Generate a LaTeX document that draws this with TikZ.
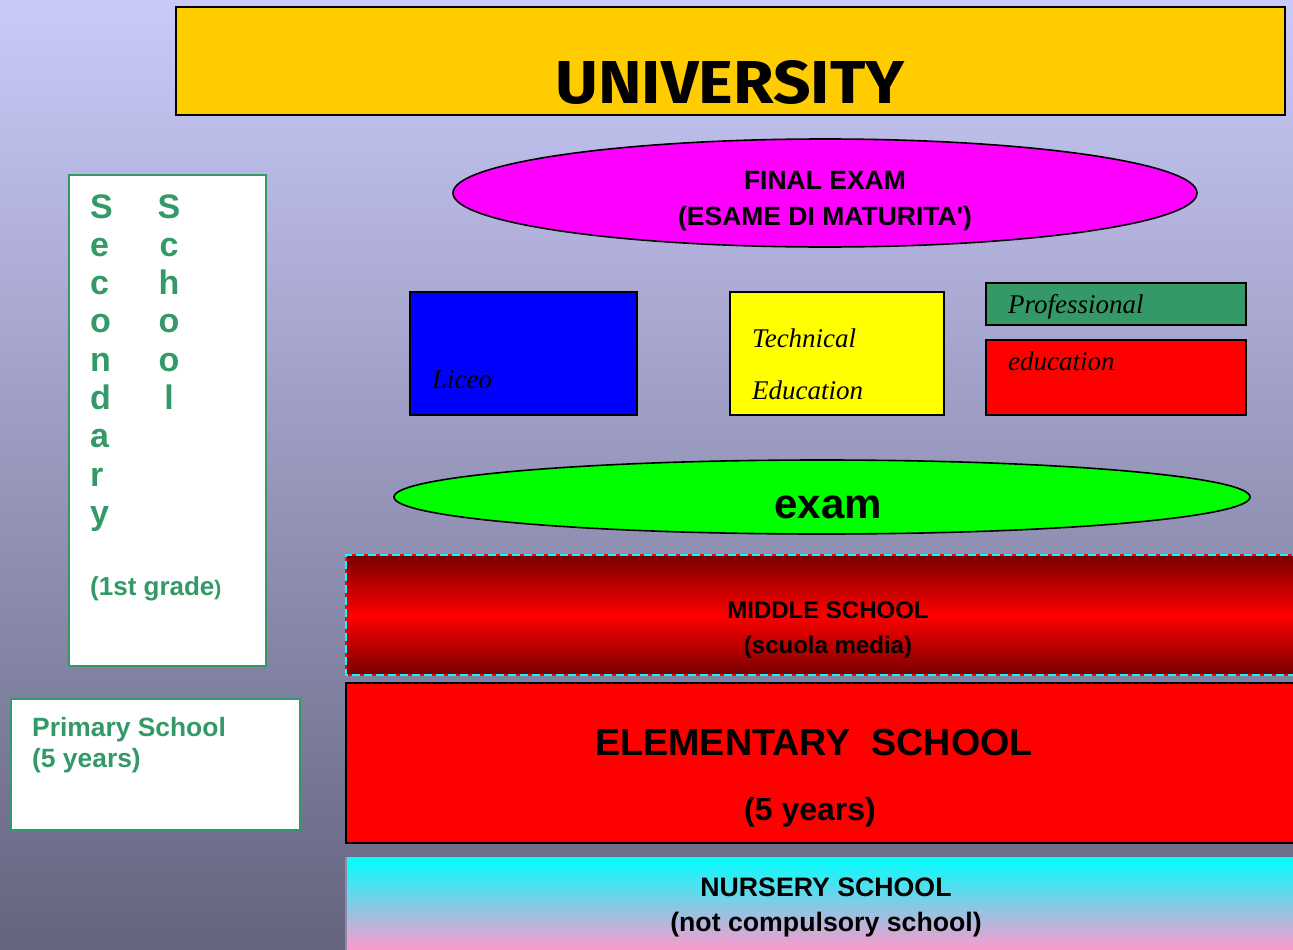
\documentclass[tikz,border=0pt]{standalone}
\usepackage{fontspec}
\setmainfont{Liberation Sans}
\newfontfamily\scriptf{Liberation Serif}
\newfontfamily\unifont{Fira Sans}
\usepackage{graphicx}
\definecolor{bgtop}{RGB}{202,202,250}
\definecolor{bgbot}{RGB}{100,100,126}
\definecolor{uniyel}{RGB}{255,204,0}
\definecolor{sgreen}{RGB}{51,153,102}
\definecolor{dred}{RGB}{120,0,0}
\definecolor{npink}{RGB}{255,153,204}
\definecolor{mag}{RGB}{255,0,255}
\definecolor{cyn}{RGB}{0,255,255}
\definecolor{grn}{RGB}{0,255,0}
\definecolor{blu}{RGB}{0,0,255}
\definecolor{yel}{RGB}{255,255,0}
\definecolor{rd}{RGB}{255,0,0}
\newcommand{\fs}[1]{\fontsize{#1pt}{#1pt}\selectfont}
\newcommand{\straightq}{\XeTeXglyph\the\XeTeXcharglyph"27\relax}
\tikzset{
  box/.style={draw=black, line width=1.6pt},
  sidebox/.style={draw=sgreen, fill=white, line width=1.5pt},
  arial/.style={font=\bfseries, inner sep=0pt},
  scr/.style={font=\scriptf\itshape\fs{27}, inner sep=0pt, anchor=base west},
  sgtxt/.style={text=sgreen, font=\bfseries, inner sep=0pt},
}
\begin{document}
\begin{tikzpicture}[x=1pt,y=-1pt]
\useasboundingbox (0,0) rectangle (1293,950);
% background
\shade[top color=bgtop, bottom color=bgbot] (0,0) rectangle (1293,950);
% university
\draw[box, fill=uniyel] (176,7) rectangle (1285,115);
\node[inner sep=0pt, anchor=base] (uni) at (730,103) {\resizebox{349pt}{43pt}{\unifont\bfseries UNIVERSITY}};
% final exam ellipse
\draw[box, fill=mag] (825,193) ellipse [x radius=372, y radius=54];
\node[arial, anchor=base, font=\bfseries\fs{26.5}] (fe1) at (825,189) {FINAL EXAM};
\node[arial, anchor=base, font=\bfseries\fs{26.5}] (fe2) at (825,225) {(ESAME DI MATURITA\straightq)};
% liceo
\draw[box, fill=blu] (410,292) rectangle (637,415);
\node[scr] (liceo) at (432,388) {Liceo};
% technical
\draw[box, fill=yel] (730,292) rectangle (944,415);
\node[scr] (tech1) at (752,347) {Technical};
\node[scr] (tech2) at (752,399) {Education};
% professional
\draw[box, fill=sgreen] (986,283) rectangle (1246,325);
\node[scr] (prof) at (1008,313) {Professional};
\draw[box, fill=rd] (986,340) rectangle (1246,415);
\node[scr] (edu) at (1008,370) {education};
% exam ellipse
\draw[box, fill=grn] (822,497) ellipse [x radius=428, y radius=37];
\node[arial, anchor=base, font=\bfseries\fs{42}] (exam) at (828,518) {exam};
% middle school
\shade[top color=dred, bottom color=dred, middle color=rd] (346,555) rectangle (1300,675);
\draw[rd, line width=1.3pt] (1300,555) -- (346,555) -- (346,675) -- (1300,675);
\draw[cyn, line width=1.3pt, dash pattern=on 8pt off 4pt] (1300,555) -- (346,555) -- (346,675) -- (1300,675);
\node[arial, anchor=base, font=\bfseries\fs{24}] (ms1) at (828,618) {MIDDLE SCHOOL};
\node[arial, anchor=base, font=\bfseries\fs{24}] (ms2) at (828,653) {(scuola media)};
% elementary
\draw[box, fill=rd] (1300,683) -- (346,683) -- (346,843) -- (1300,843);
\node[arial, anchor=base, font=\bfseries\fs{37.7}] (el1) at (814,755) {ELEMENTARY\ \ SCHOOL};
\node[arial, anchor=base, font=\bfseries\fs{32}] (el2) at (810,820) {(5 years)};
% nursery
\shade[top color=cyn, bottom color=npink] (346,857) rectangle (1293,950);
\draw[color={rgb,255:red,140;green,140;blue,170}, line width=1.2pt] (346,857) -- (346,950);
\node[arial, anchor=base, font=\bfseries\fs{26.7}] (ns1) at (826,896) {NURSERY SCHOOL};
\node[arial, anchor=base, font=\bfseries\fs{26.7}] (ns2) at (826,931) {(not compulsory school)};
% secondary school box
\draw[sidebox] (69,175) rectangle (266,666);
\foreach \l [count=\i from 0] in {S,e,c,o,n,d,a,r,y}
  \node[sgtxt, font=\bfseries\fs{34}, anchor=base west] (sa\i) at (90,218+38.3*\i) {\l};
\foreach \l [count=\i from 0] in {S,c,h,o,o,l}
  \node[sgtxt, font=\bfseries\fs{34}, anchor=base] (sb\i) at (169,218+38.3*\i) {\l};
\node[sgtxt, font=\bfseries\fs{26}, anchor=base west] (grade) at (90,595) {(1st grade{\fs{21})}};
% primary
\draw[sidebox] (11,699) rectangle (300,830);
\node[sgtxt, font=\bfseries\fs{26.4}, anchor=base west] (pr1) at (32,736) {Primary School};
\node[sgtxt, font=\bfseries\fs{26.4}, anchor=base west] (pr2) at (32,767) {(5 years)};
\end{tikzpicture}
\end{document}
